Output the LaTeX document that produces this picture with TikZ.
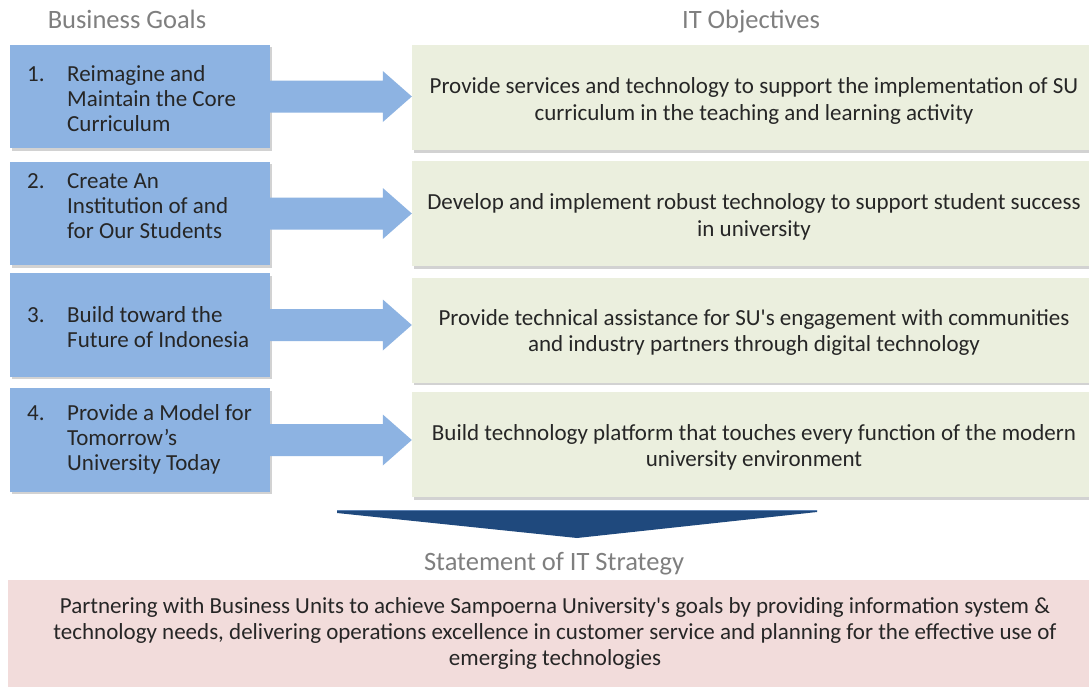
\documentclass[tikz,border=0pt]{standalone}
\usepackage{fontspec}
\setmainfont{Carlito}[Ligatures=TeXOff]
\usetikzlibrary{calc,shadows}
\definecolor{goalblue}{HTML}{8DB3E2}
\definecolor{objgreen}{HTML}{EBEFDE}
\definecolor{stratpink}{HTML}{F2DCDB}
\definecolor{chevblue}{HTML}{1F497D}
\definecolor{chevedge}{HTML}{5A80B2}
\definecolor{headgray}{HTML}{7F7F7F}
\definecolor{bodytext}{HTML}{262626}

% block arrow from a goal box to its objective box
\newcommand\goalarrow[2]{%
  \fill[goalblue]
    ($(#1.east)+(0,-16)$) -- ($(#2.west |- #1.east)+(-29,-16)$)
    -- ($(#2.west |- #1.east)+(-29,-25.5)$) -- (#2.west |- #1.east)
    -- ($(#2.west |- #1.east)+(-29,25.5)$) -- ($(#2.west |- #1.east)+(-29,16)$)
    -- ($(#1.east)+(0,16)$) -- cycle;}

\begin{document}
\begin{tikzpicture}[x=1pt,y=-1pt,
  boxshadow/.style={drop shadow={shadow xshift=1.5pt,shadow yshift=-2.5pt,opacity=0.25,fill=black!70}},
  goalbox/.style={fill=goalblue, minimum width=260pt, minimum height=103.5pt, inner sep=0pt, boxshadow},
  objbox/.style={fill=objgreen, minimum width=684pt, minimum height=105pt, inner sep=0pt, boxshadow},
  objtext/.style={align=center, inner sep=0pt, text=bodytext, font=\fontsize{23}{26.5}\selectfont},
  goaltext/.style={text=bodytext, inner sep=0pt, anchor=west, font=\fontsize{23}{25}\selectfont},
  heading/.style={text=headgray, inner sep=0pt, anchor=base, font=\fontsize{26.5}{30}\selectfont}
]
\useasboundingbox (0,0) rectangle (1089,686);
\fill[white] (0,0) rectangle (1089,686);

% column headings
\node[heading] (hgoals) at (127,28) {Business Goals};
\node[heading] (hobj) at (751,28) {IT Objectives};

% business goals
\node[goalbox] (g1) at (140,96.5) {};
\node[goalbox] (g2) at (140,213.5) {};
\node[goalbox] (g3) at (140,325) {};
\node[goalbox] (g4) at (140,440) {};

\node[goaltext] (t1) at (27,101.5) {\begin{tabular}{@{}p{40pt}@{}l@{}}1. & Reimagine and\\ & Maintain the Core\\ & Curriculum\end{tabular}};
\node[goaltext] (t2) at (27,208) {\begin{tabular}{@{}p{40pt}@{}l@{}}2. & Create An\\ & Institution of and\\ & for Our Students\end{tabular}};
\node[goaltext] (t3) at (27,329.5) {\begin{tabular}{@{}p{40pt}@{}l@{}}3. & Build toward the\\ & Future of Indonesia\end{tabular}};
\node[goaltext] (t4) at (27,440) {\begin{tabular}{@{}p{40pt}@{}l@{}}4. & Provide a Model for\\ & Tomorrow’s\\ & University Today\end{tabular}};

% IT objectives
\node[objbox] (o1) at (754,97.5) {};
\node[objbox] (o2) at (754,213.5) {};
\node[objbox] (o3) at (754,330) {};
\node[objbox] (o4) at (754,444.5) {};

\node[objtext] (ot1) at (754,101) {Provide services and technology to support the implementation of SU\\curriculum in the teaching and learning activity};
\node[objtext] (ot2) at (754,217) {Develop and implement robust technology to support student success\\in university};
\node[objtext] (ot3) at (754,332.5) {Provide technical assistance for SU's engagement with communities\\and industry partners through digital technology};
\node[objtext] (ot4) at (754,447.5) {Build technology platform that touches every function of the modern\\university environment};

% arrows from goals to objectives
\goalarrow{g1}{o1}
\goalarrow{g2}{o2}
\goalarrow{g3}{o3}
\goalarrow{g4}{o4}

% funnel chevron
\fill[chevblue] (337,510) -- (817,510) -- (817,512) -- (577,538) -- (337,513) -- cycle;
\draw[chevedge, line width=1pt] (337,510.5) -- (817,510.5);

% strategy statement
\node[heading] (hstrat) at (554,570) {Statement of IT Strategy};
\fill[stratpink] (8,580) rectangle (1100,690);
\node[text=bodytext, align=center, inner sep=0pt, font=\fontsize{23}{26}\selectfont] (strat) at (555,633)
  {Partnering with Business Units to achieve Sampoerna University's goals by providing information system \&\\
   technology needs, delivering operations excellence in customer service and planning for the effective use of\\
   emerging technologies};
\end{tikzpicture}
\end{document}
